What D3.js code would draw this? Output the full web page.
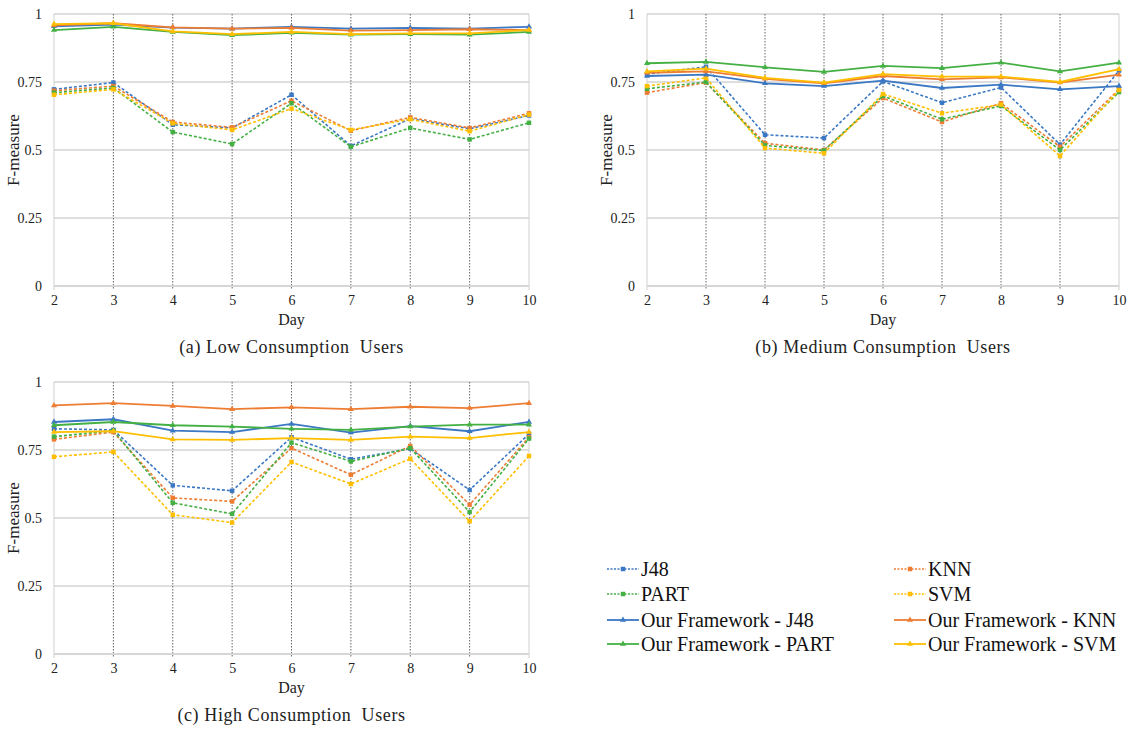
<!DOCTYPE html>
<html>
<head>
<meta charset="utf-8">
<script src="https://cdn.jsdelivr.net/npm/d3@7"></script>
<style>
  html, body { margin: 0; padding: 0; background: #ffffff; }
  svg text { font-family: "Liberation Serif", "Times New Roman", Tinos, "DejaVu Serif", serif !important; }
</style>
</head>
<body>
<svg id="chart" width="1140" height="734"></svg>
<script>
// Days on the x axis and the y tick values
const days = [2, 3, 4, 5, 6, 7, 8, 9, 10];
const yTicks = [0, 0.25, 0.5, 0.75, 1];

// Series names in legend order
const seriesNames = ["J48", "KNN", "PART", "SVM",
  "Our Framework - J48", "Our Framework - KNN", "Our Framework - PART", "Our Framework - SVM"];
const seriesColors = ["#3b78c4", "#ee7d34", "#44b044", "#ffbf00",
  "#3b78c4", "#ee7d34", "#44b044", "#ffbf00"];
const seriesDashed = [true, true, true, true, false, false, false, false];

// (a) Low consumption users
const lowJ48    = [0.723, 0.748, 0.593, 0.581, 0.703, 0.515, 0.615, 0.578, 0.627];
const lowKNN    = [0.718, 0.735, 0.603, 0.583, 0.681, 0.571, 0.620, 0.581, 0.635];
const lowPART   = [0.711, 0.728, 0.566, 0.522, 0.672, 0.512, 0.581, 0.539, 0.600];
const lowSVM    = [0.703, 0.723, 0.598, 0.574, 0.652, 0.574, 0.613, 0.569, 0.630];
const lowOurJ48  = [0.955, 0.961, 0.950, 0.946, 0.953, 0.946, 0.949, 0.946, 0.953];
const lowOurKNN  = [0.958, 0.966, 0.951, 0.946, 0.949, 0.939, 0.941, 0.944, 0.941];
const lowOurPART = [0.941, 0.953, 0.934, 0.922, 0.931, 0.924, 0.926, 0.924, 0.934];
const lowOurSVM  = [0.963, 0.966, 0.936, 0.926, 0.934, 0.926, 0.929, 0.929, 0.941];

// (b) Medium consumption users
const medJ48    = [0.779, 0.806, 0.556, 0.544, 0.752, 0.674, 0.730, 0.520, 0.792];
const medKNN    = [0.711, 0.748, 0.525, 0.500, 0.691, 0.603, 0.672, 0.512, 0.723];
const medPART   = [0.725, 0.750, 0.517, 0.498, 0.699, 0.613, 0.662, 0.500, 0.713];
const medSVM    = [0.735, 0.765, 0.507, 0.488, 0.706, 0.635, 0.667, 0.478, 0.721];
const medOurJ48  = [0.772, 0.777, 0.745, 0.735, 0.755, 0.728, 0.740, 0.723, 0.735];
const medOurKNN  = [0.784, 0.789, 0.762, 0.745, 0.772, 0.760, 0.767, 0.748, 0.777];
const medOurPART = [0.819, 0.824, 0.804, 0.787, 0.809, 0.801, 0.821, 0.789, 0.821];
const medOurSVM  = [0.789, 0.799, 0.765, 0.748, 0.779, 0.770, 0.770, 0.750, 0.797];

// (c) High consumption users
const highJ48    = [0.828, 0.824, 0.620, 0.600, 0.797, 0.716, 0.755, 0.603, 0.809];
const highKNN    = [0.789, 0.816, 0.574, 0.561, 0.757, 0.659, 0.765, 0.549, 0.797];
const highPART   = [0.799, 0.821, 0.556, 0.515, 0.777, 0.708, 0.757, 0.522, 0.792];
const highSVM    = [0.725, 0.743, 0.512, 0.483, 0.706, 0.625, 0.718, 0.488, 0.728];
const highOurJ48  = [0.853, 0.863, 0.821, 0.816, 0.846, 0.814, 0.838, 0.819, 0.853];
const highOurKNN  = [0.914, 0.922, 0.912, 0.900, 0.907, 0.900, 0.909, 0.904, 0.922];
const highOurPART = [0.841, 0.853, 0.841, 0.836, 0.828, 0.824, 0.836, 0.843, 0.843];
const highOurSVM  = [0.816, 0.819, 0.789, 0.787, 0.794, 0.787, 0.799, 0.794, 0.816];

const panels = [
  { caption: "(a) Low Consumption  Users", x0: 54, x1: 529, y0: 14, y1: 286,
    series: [lowJ48, lowKNN, lowPART, lowSVM, lowOurJ48, lowOurKNN, lowOurPART, lowOurSVM] },
  { caption: "(b) Medium Consumption  Users", x0: 647, x1: 1119, y0: 14, y1: 286,
    series: [medJ48, medKNN, medPART, medSVM, medOurJ48, medOurKNN, medOurPART, medOurSVM] },
  { caption: "(c) High Consumption  Users", x0: 54, x1: 529, y0: 382, y1: 654,
    series: [highJ48, highKNN, highPART, highSVM, highOurJ48, highOurKNN, highOurPART, highOurSVM] }
];

const serif = '"Liberation Serif", "Times New Roman", Tinos, "DejaVu Serif", serif';
const svg = d3.select("#chart");

const squareSym = d3.symbol().type(d3.symbolSquare).size(20);
const triSym = d3.symbol().type(d3.symbolTriangle).size(16);

function drawPanel(p) {
  const x = d3.scaleLinear().domain([2, 10]).range([p.x0, p.x1]);
  const y = d3.scaleLinear().domain([0, 1]).range([p.y1, p.y0]);
  const g = svg.append("g");

  // horizontal gridlines
  g.selectAll("line.hgrid").data(yTicks.filter(t => t > 0)).join("line")
    .attr("x1", p.x0).attr("x2", p.x1)
    .attr("y1", d => y(d)).attr("y2", d => y(d))
    .attr("stroke", "#bdbdbd").attr("stroke-width", 1);

  // left and right frame lines
  g.selectAll("line.vframe").data([2, 10]).join("line")
    .attr("x1", d => x(d)).attr("x2", d => x(d))
    .attr("y1", p.y0).attr("y2", p.y1 + 4)
    .attr("stroke", "#cfcfcf").attr("stroke-width", 1);

  // dotted vertical gridlines
  g.selectAll("line.vgrid").data(days.filter(d => d > 2 && d < 10)).join("line")
    .attr("x1", d => x(d)).attr("x2", d => x(d))
    .attr("y1", p.y0).attr("y2", p.y1 + 4)
    .attr("stroke", "#555").attr("stroke-width", 0.9)
    .attr("stroke-dasharray", "1.5,1.5");

  // x axis baseline
  g.append("line")
    .attr("x1", p.x0).attr("x2", p.x1)
    .attr("y1", y(0)).attr("y2", y(0))
    .attr("stroke", "#d6d6d6").attr("stroke-width", 2);

  // x axis tick labels
  const xAxis = d3.axisBottom(x).tickValues(days).tickSize(0).tickPadding(9).tickFormat(d3.format("d"));
  const xa = g.append("g").attr("transform", `translate(0,${p.y1})`).call(xAxis)
    .attr("font-family", serif);
  xa.select(".domain").remove();
  xa.selectAll("text").attr("font-size", 14).attr("fill", "#222").style("font-family", serif);

  // y axis tick labels
  const yAxis = d3.axisLeft(y).tickValues(yTicks).tickSize(0).tickPadding(12)
    .tickFormat(d => String(d));
  const ya = g.append("g").attr("transform", `translate(${p.x0},0)`).call(yAxis)
    .attr("font-family", serif);
  ya.select(".domain").remove();
  ya.selectAll("text").attr("font-size", 14).attr("fill", "#222").style("font-family", serif);

  // axis titles
  g.append("text")
    .attr("x", (p.x0 + p.x1) / 2).attr("y", p.y1 + 39)
    .attr("text-anchor", "middle").attr("font-size", 16).attr("fill", "#222")
    .style("font-family", serif)
    .text("Day");
  g.append("text")
    .attr("transform", `translate(${p.x0 - 35},${(p.y0 + p.y1) / 2}) rotate(-90)`)
    .attr("text-anchor", "middle").attr("font-size", 17).attr("fill", "#222")
    .style("font-family", serif)
    .text("F-measure");

  // caption
  g.append("text")
    .attr("x", (p.x0 + p.x1) / 2).attr("y", p.y1 + 67)
    .attr("text-anchor", "middle").attr("font-size", 18).attr("fill", "#222")
    .attr("letter-spacing", 0.6)
    .style("font-family", serif).style("white-space", "pre")
    .text(p.caption);

  // series lines and markers
  const line = d3.line().x((d, i) => x(days[i])).y(d => y(d));
  p.series.forEach((vals, si) => {
    const sg = g.append("g");
    sg.append("path").datum(vals)
      .attr("d", line).attr("fill", "none")
      .attr("stroke", seriesColors[si])
      .attr("stroke-width", seriesDashed[si] ? 1.6 : 1.8)
      .attr("stroke-dasharray", seriesDashed[si] ? "3,2" : null);
    sg.selectAll("path.mk").data(vals).join("path")
      .attr("class", "mk")
      .attr("d", seriesDashed[si] ? squareSym : triSym)
      .attr("transform", (d, i) => `translate(${x(days[i])},${y(d)})`)
      .attr("fill", seriesColors[si]);
  });
}

panels.forEach(drawPanel);

// legend: two columns, four rows
const legendCols = [607, 894];
const legendRows = [569, 594, 620, 644];
const lg = svg.append("g");
seriesNames.forEach((name, i) => {
  const cx = legendCols[i % 2];
  const cy = legendRows[Math.floor(i / 2)];
  const item = lg.append("g");
  item.append("line")
    .attr("x1", cx).attr("x2", cx + 32).attr("y1", cy).attr("y2", cy)
    .attr("stroke", seriesColors[i])
    .attr("stroke-width", seriesDashed[i] ? 1.5 : 1.8)
    .attr("stroke-dasharray", seriesDashed[i] ? "2,1.5" : null);
  item.append("path")
    .attr("d", seriesDashed[i] ? squareSym : triSym)
    .attr("transform", `translate(${cx + 16},${cy})`)
    .attr("fill", seriesColors[i]);
  item.append("text")
    .attr("x", cx + 34).attr("y", cy).attr("dy", "0.35em")
    .attr("font-size", 20).attr("fill", "#111")
    .style("font-family", serif)
    .text(name);
});
</script>
</body>
</html>
